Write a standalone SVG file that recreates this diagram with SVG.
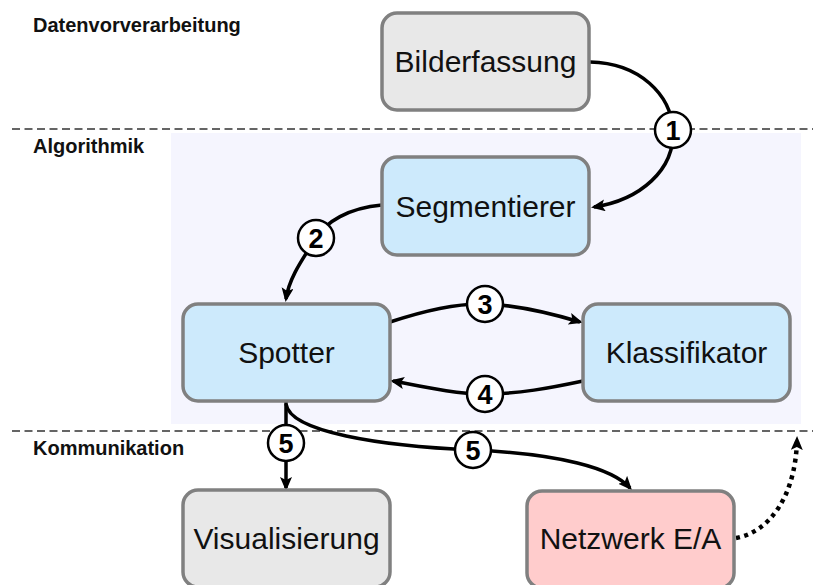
<svg xmlns="http://www.w3.org/2000/svg" width="813" height="585" viewBox="0 0 813 585">
<defs>
<style>
.node rect{stroke:#808080;stroke-width:3.5}
.gray rect{fill:#e8e8e8}
.blue rect{fill:#cdeafc}
.pink rect{fill:#ffcccc}
.node text{font-family:"Liberation Sans",Arial,sans-serif;font-size:30px;fill:#111;text-anchor:middle}
.sec{font-family:"Liberation Sans",Arial,sans-serif;font-size:20px;font-weight:bold;fill:#111}
.div{stroke:#333;stroke-width:1.5;stroke-dasharray:8 4.5;fill:none}
.edge{fill:none;stroke:#000;stroke-width:3.5}
.arr{marker-end:url(#ah)}
.dot{fill:none;stroke:#000;stroke-width:4.5;stroke-dasharray:4 4.5;marker-end:url(#ah)}
.num circle{fill:#fff;stroke:#000;stroke-width:2.5}
.num text{font-family:"Liberation Sans",Arial,sans-serif;font-size:27px;font-weight:bold;fill:#000;text-anchor:middle}
</style>
<marker id="ah" markerUnits="userSpaceOnUse" markerWidth="16" markerHeight="14" refX="11" refY="6" orient="auto">
<path d="M0,0 L14,6 L0,12 L3,6 z" fill="#000"/>
</marker>
</defs>
<rect x="171" y="133" width="630" height="291" fill="#f5f5fe"/>
<line class="div" x1="12" y1="129" x2="813" y2="129"/>
<line class="div" x1="12" y1="431" x2="813" y2="431"/>
<text class="sec" x="33" y="32">Datenvorverarbeitung</text>
<text class="sec" x="33" y="153">Algorithmik</text>
<text class="sec" x="33" y="455">Kommunikation</text>
<g id="connectors">
<path class="edge arr" d="M590,62 C640,63 671,95 673,130 C675,170 640,200 594,207"/>
<path class="edge arr" d="M382,205 C348,208 326,222 316,238 C302,260 289,278 286,299"/>
<path class="edge arr" d="M390,322 C420,312 453,303 485,304 C518,305 550,313 580,322"/>
<path class="edge arr" d="M583,381 C550,388 518,394 485,394 C453,394 420,386 393,381"/>
<path class="edge arr" d="M286,402 L286,488"/>
<path class="edge arr" d="M286,404 C290,432 380,446 473,450 C560,454 612,468 630,488"/>
<path class="dot" d="M736,538 C770,532 796,495 797,439"/>
<g class="num"><circle cx="673" cy="130" r="18"/><text x="673" y="139.7">1</text></g>
<g class="num"><circle cx="316" cy="238" r="18"/><text x="316" y="247.7">2</text></g>
<g class="num"><circle cx="485" cy="304" r="18"/><text x="485" y="313.7">3</text></g>
<g class="num"><circle cx="485" cy="394" r="18"/><text x="485" y="403.7">4</text></g>
<g class="num"><circle cx="286" cy="443" r="18"/><text x="286" y="452.7">5</text></g>
<g class="num"><circle cx="473" cy="450" r="18"/><text x="473" y="459.7">5</text></g>
</g>
<g id="bilderfassung" class="node gray"><rect x="382" y="13" width="207" height="97" rx="15"/><text x="485.5" y="72">Bilderfassung</text></g>
<g id="segmentierer" class="node blue"><rect x="382" y="157" width="207" height="98" rx="15"/><text x="485.5" y="217">Segmentierer</text></g>
<g id="spotter" class="node blue"><rect x="183" y="304" width="207" height="97" rx="15"/><text x="286.5" y="363">Spotter</text></g>
<g id="klassifikator" class="node blue"><rect x="583" y="304" width="207" height="97" rx="15"/><text x="686.5" y="363">Klassifikator</text></g>
<g id="visualisierung" class="node gray"><rect x="183" y="490" width="207" height="97" rx="15"/><text x="286.5" y="549">Visualisierung</text></g>
<g id="netzwerk" class="node pink"><rect x="527" y="491" width="207" height="97" rx="15"/><text x="630.5" y="549">Netzwerk E/A</text></g>
</svg>
